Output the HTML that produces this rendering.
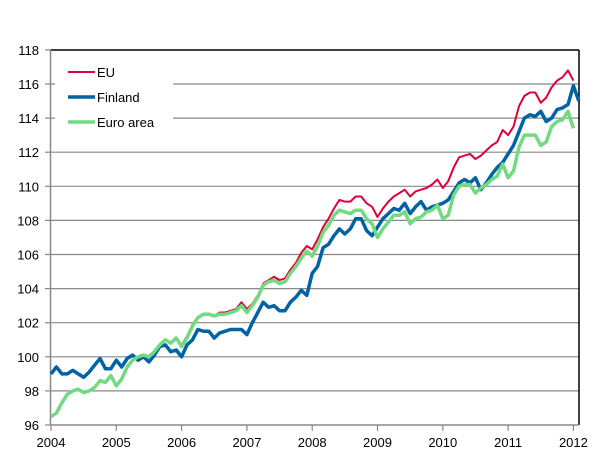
<!DOCTYPE html>
<html><head><meta charset="utf-8"><style>
html,body{margin:0;padding:0;background:#fff;width:607px;height:474px;overflow:hidden}
text{font-family:"Liberation Sans",sans-serif;font-size:13px;fill:#000}
</style></head><body>
<svg id="s" width="607" height="474" xmlns="http://www.w3.org/2000/svg">
<g id="grid"></g>
<rect x="55" y="56" width="118" height="84" fill="#fff"/>
<line x1="51" y1="50" x2="579" y2="50" stroke="#000" stroke-width="1.5"/>
<line x1="579" y1="50" x2="579" y2="425" stroke="#000" stroke-width="1.5"/>
<line x1="50.5" y1="50" x2="50.5" y2="425" stroke="#888" stroke-width="1.5"/>
<line x1="50" y1="425" x2="579" y2="425" stroke="#888" stroke-width="1.5"/>
<g id="lines"></g>
<line x1="68" y1="72" x2="95" y2="72" stroke="#e0003c" stroke-width="2"/>
<line x1="68" y1="97" x2="95" y2="97" stroke="#0063a3" stroke-width="3.5"/>
<line x1="68" y1="122" x2="95" y2="122" stroke="#72da80" stroke-width="3.5"/>
<text x="97" y="77">EU</text>
<text x="97" y="102">Finland</text>
<text x="97" y="127">Euro area</text>
</svg>
<script>
var NS="http://www.w3.org/2000/svg";
function Y(v){return 425-(v-96)*17.05;}
var g=document.getElementById('grid');
function el(p,t,a,txt){var e=document.createElementNS(NS,t);for(var k in a)e.setAttribute(k,a[k]);if(txt)e.textContent=txt;p.appendChild(e);return e;}
for(var v=96;v<=118;v+=2){var y=Y(v);
 if(v>96&&v<118)el(g,'line',{x1:51,y1:y,x2:579,y2:y,stroke:'#888','stroke-width':1.2});
 el(g,'line',{x1:45,y1:y,x2:51,y2:y,stroke:'#888','stroke-width':1.2});
 el(g,'text',{x:39,y:y+5,'text-anchor':'end'},String(v));}
for(var i=0;i<=8;i++){var x=51+i*65.3;
 el(g,'line',{x1:x,y1:425,x2:x,y2:431,stroke:'#888','stroke-width':1.2});
 el(g,'text',{x:x,y:447,'text-anchor':'middle'},String(2004+i));}
var fin=[99.0,99.4,99.0,99.0,99.2,99.0,98.8,99.1,99.5,99.9,99.3,99.3,
99.8,99.4,99.9,100.1,99.8,100.0,99.7,100.1,100.6,100.7,100.3,100.4,
100.0,100.7,101.0,101.6,101.5,101.5,101.1,101.4,101.5,101.6,101.6,101.6,
101.3,102.0,102.6,103.2,102.9,103.0,102.7,102.7,103.2,103.5,103.9,103.6,
104.9,105.3,106.4,106.6,107.1,107.5,107.2,107.5,108.1,108.1,107.4,107.1,
107.6,108.1,108.4,108.7,108.6,109.0,108.4,108.8,109.1,108.6,108.8,108.9,
109.0,109.2,109.7,110.2,110.4,110.2,110.5,109.8,110.2,110.7,111.1,111.4,
111.9,112.4,113.2,114.0,114.2,114.1,114.4,113.8,114.0,114.5,114.6,114.8,115.9,115.0];
var eu=[96.5,96.7,97.3,97.8,98.0,98.1,97.9,98.0,98.2,98.6,98.5,98.9,
98.3,98.7,99.4,99.8,100.0,100.1,100.0,100.3,100.7,101.0,100.8,101.1,
100.7,101.2,101.9,102.3,102.5,102.5,102.4,102.6,102.6,102.7,102.8,103.2,
102.8,103.1,103.6,104.3,104.5,104.7,104.5,104.6,105.1,105.5,106.1,106.5,
106.3,106.9,107.6,108.1,108.7,109.2,109.1,109.1,109.4,109.4,109.0,108.8,
108.2,108.7,109.1,109.4,109.6,109.8,109.4,109.7,109.8,109.9,110.1,110.4,
109.9,110.3,111.1,111.7,111.8,111.9,111.6,111.8,112.1,112.4,112.6,113.3,
113.0,113.5,114.7,115.3,115.5,115.5,114.9,115.2,115.8,116.2,116.4,116.8,116.2];
var ea=eu.slice(0,24).concat([100.6,101.1,101.8,102.3,102.5,102.5,102.4,102.5,102.5,102.6,102.7,103.0,
102.6,103.0,103.5,104.2,104.4,104.5,104.3,104.4,104.9,105.3,105.8,106.2,
105.9,106.5,107.3,107.7,108.3,108.6,108.5,108.4,108.6,108.6,108.1,107.8,
107.0,107.5,107.9,108.3,108.3,108.5,107.8,108.1,108.2,108.5,108.6,108.9,
108.1,108.3,109.5,110.0,110.1,110.1,109.6,109.9,110.1,110.4,110.6,111.3,
110.5,110.9,112.3,113.0,113.0,113.0,112.4,112.6,113.5,113.8,113.9,114.4,113.4]);
var L=document.getElementById('lines');
function pl(d,c,w){var p=d.map(function(v,i){return (51+i*65.3/12).toFixed(1)+','+Y(v).toFixed(1);}).join(' ');
 el(L,'polyline',{points:p,fill:'none',stroke:c,'stroke-width':w,'stroke-linejoin':'round'});}
pl(eu,'#e0003c',2);pl(fin,'#0063a3',3.5);pl(ea,'#72da80',3.5);
</script>
</body></html>
